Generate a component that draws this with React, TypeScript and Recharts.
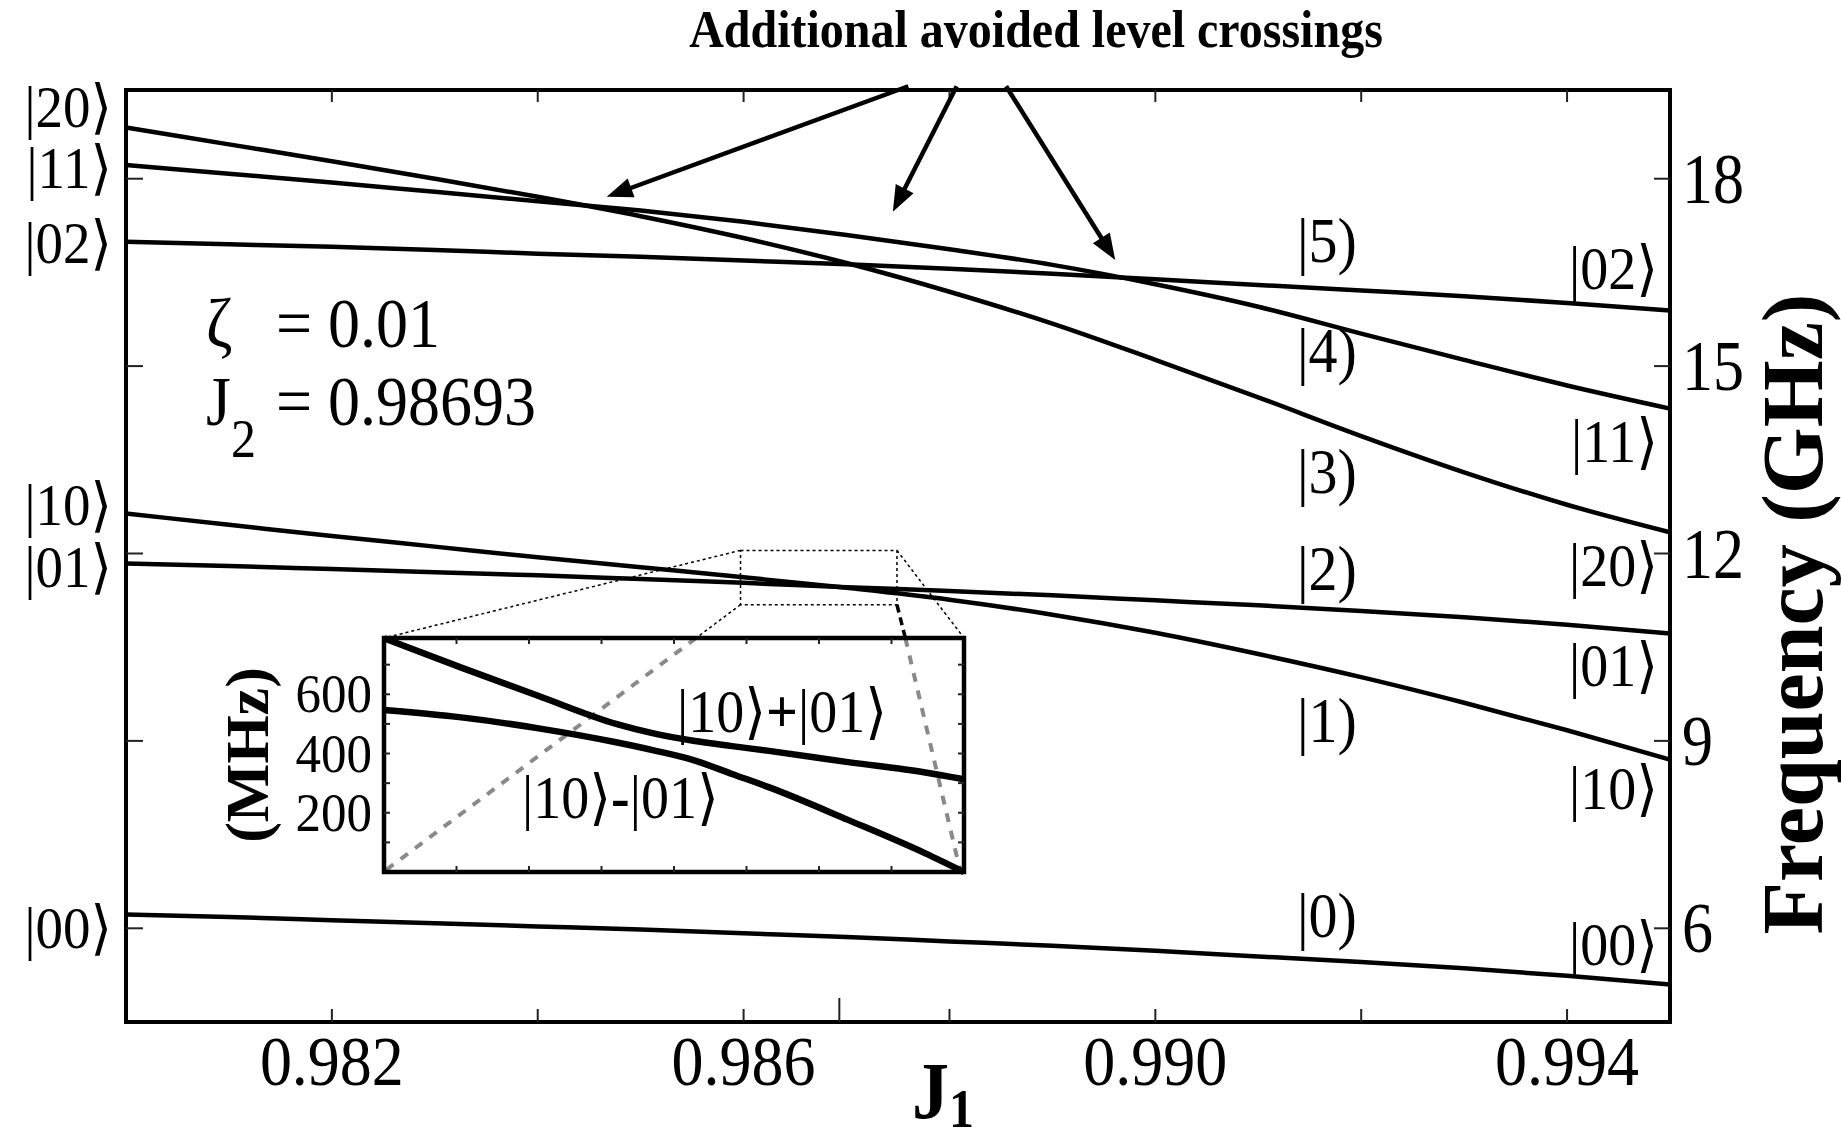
import React from 'react';
import { LineChart, Line, XAxis, YAxis, ReferenceArea } from 'recharts';

const W = 1841;
const H = 1141;
const SERIF = '"Liberation Serif", "DejaVu Serif", serif';
const SY = 1.08; // glyphs in this figure run slightly taller than wide
const KET = '\u27E9';

// J1 sweep and the uncoupled level frequencies (GHz)
const j1Values = [0.980, 0.981, 0.982, 0.983, 0.984, 0.985, 0.986, 0.987, 0.988, 0.989, 0.990, 0.991, 0.992, 0.993, 0.994, 0.995];
const level00 = [6.22, 6.18, 6.13, 6.08, 6.03, 5.98, 5.92, 5.86, 5.79, 5.72, 5.64, 5.55, 5.46, 5.36, 5.24, 5.10];
const level01 = [11.84, 11.80, 11.75, 11.70, 11.65, 11.59, 11.53, 11.46, 11.40, 11.33, 11.25, 11.17, 11.08, 10.98, 10.86, 10.72];
const level10 = [12.64, 12.46, 12.28, 12.11, 11.94, 11.78, 11.62, 11.45, 11.26, 11.02, 10.73, 10.39, 10.02, 9.61, 9.17, 8.70];
const level02 = [16.99, 16.95, 16.91, 16.86, 16.80, 16.75, 16.69, 16.63, 16.56, 16.48, 16.39, 16.30, 16.21, 16.12, 16.01, 15.89];
const level11 = [18.22, 18.08, 17.94, 17.79, 17.64, 17.49, 17.31, 17.10, 16.87, 16.62, 16.31, 15.95, 15.52, 15.10, 14.69, 14.32];
const level20 = [18.82, 18.55, 18.28, 18.00, 17.71, 17.40, 17.05, 16.65, 16.19, 15.68, 15.10, 14.50, 13.88, 13.30, 12.78, 12.34];

const J2 = 0.98693;
const ZETA = 0.01;
const X_DOMAIN = [0.980, 0.995];
const Y_DOMAIN = [4.5, 19.42];
const j1Ticks = [0.982, 0.984, 0.986, J2, 0.988, 0.990, 0.992, 0.994];
const j1Labels = [0.982, 0.986, 0.990, 0.994];
const freqTicks = [6, 9, 12, 15, 18];

// zoomed window around J1 = J2 (main-plot units)
const zoomJ1 = [0.98597, 0.98749];
const zoomFreq = [11.18, 12.05];

// inset: symmetric / antisymmetric splitting (MHz)
const insetJ1 = [0.98600, 0.98620, 0.98640, 0.98660, 0.98670, 0.98680, 0.98690, 0.98700, 0.98720, 0.98740, 0.98750];
const insetPlus = [789, 690, 594, 500, 467, 443, 425, 408, 371, 336, 313];
const insetMinus = [547, 522, 485, 438, 410, 378, 331, 284, 176, 63, 0];
const INSET_X_DOMAIN = [0.9860, 0.9875];
const INSET_Y_DOMAIN = [0, 790];
const insetTicksX = [0.9861875, 0.986375, 0.9865625, 0.98675, 0.9869375, 0.987125, 0.9873125];
const insetTicksY = [100, 200, 300, 400, 500, 600, 700];
const insetLabels = [200, 400, 600];

// arrows from the heading down to the extra anticrossings (J1, GHz)
const arrowTails = [[0.98760, 19.48], [0.98807, 19.48], [0.98855, 19.48]];
const arrowTips = [[0.98467, 17.71], [0.98745, 17.47], [0.98961, 16.70]];

const PLOT = { left: 126, top: 90, right: 1670, bottom: 1022 };
const INSET = { left: 384, top: 638, right: 964, bottom: 872 };
const INSET_DIV = { left: 150, top: 600, width: 840, height: 300 };
const IL = {
  left: INSET.left - INSET_DIV.left,
  top: INSET.top - INSET_DIV.top,
  right: INSET.right - INSET_DIV.left,
  bottom: INSET.bottom - INSET_DIV.top,
};

const mx = (j: number) => PLOT.left + ((j - X_DOMAIN[0]) / (X_DOMAIN[1] - X_DOMAIN[0])) * (PLOT.right - PLOT.left);
const my = (f: number) => PLOT.top + ((Y_DOMAIN[1] - f) / (Y_DOMAIN[1] - Y_DOMAIN[0])) * (PLOT.bottom - PLOT.top);

const mainRows = j1Values.map((j1, i) => ({
  j1,
  s00: level00[i],
  s01: level01[i],
  s10: level10[i],
  s02: level02[i],
  s11: level11[i],
  s20: level20[i],
}));
const insetRows = insetJ1.map((j1, i) => ({ j1, plus: insetPlus[i], minus: insetMinus[i] }));

const leftKets: [string, number][] = [
  ['|20' + KET, 127], ['|11' + KET, 188], ['|02' + KET, 263],
  ['|10' + KET, 525], ['|01' + KET, 587], ['|00' + KET, 948],
];
const rightKets: [string, number][] = [
  ['|02' + KET, 289], ['|11' + KET, 462], ['|20' + KET, 586],
  ['|01' + KET, 686], ['|10' + KET, 809], ['|00' + KET, 965],
];
const dressed: [string, number][] = [
  ['|5)', 262], ['|4)', 372], ['|3)', 493], ['|2)', 590], ['|1)', 742], ['|0)', 937],
];

function Txt({ x, y, size, anchor = 'start', weight = 'normal', sx = 1, sy = SY, children }: any) {
  return (
    <text
      transform={`translate(${x} ${y}) scale(${sx} ${sy})`}
      fontSize={size}
      fontFamily={SERIF}
      fontWeight={weight}
      textAnchor={anchor}
      fill="#000"
    >
      {children}
    </text>
  );
}

function J1Tick({ x, payload }: any) {
  const v = payload.value;
  const isJ2 = v === J2;
  return (
    <g>
      <line x1={x} x2={x} y1={PLOT.bottom} y2={PLOT.bottom - (isJ2 ? 24 : 13)} stroke="#222" strokeWidth={2} />
      {!isJ2 && <line x1={x} x2={x} y1={PLOT.top} y2={PLOT.top + 12} stroke="#222" strokeWidth={2} />}
      {j1Labels.includes(v) && (
        <Txt x={x} y={1085} size={64} anchor="middle">{v.toFixed(3)}</Txt>
      )}
    </g>
  );
}

function FreqTick({ y, payload }: any) {
  return (
    <g>
      <line x1={PLOT.right} x2={PLOT.right - 16} y1={y} y2={y} stroke="#222" strokeWidth={2} />
      <line x1={PLOT.left} x2={PLOT.left + 17} y1={y} y2={y} stroke="#222" strokeWidth={2} />
      <Txt x={1682} y={y + 24} size={62} sy={1.16}>{payload.value}</Txt>
    </g>
  );
}

function InsetXTick({ x }: any) {
  return (
    <g>
      <line x1={x} x2={x} y1={IL.bottom} y2={IL.bottom - 6} stroke="#222" strokeWidth={2} />
      <line x1={x} x2={x} y1={IL.top} y2={IL.top + 6} stroke="#222" strokeWidth={2} />
    </g>
  );
}

function InsetYTick({ y, payload }: any) {
  const v = payload.value;
  return (
    <g>
      <line x1={IL.left} x2={IL.left + 6} y1={y} y2={y} stroke="#222" strokeWidth={2} />
      <line x1={IL.right} x2={IL.right - 6} y1={y} y2={y} stroke="#222" strokeWidth={2} />
      {insetLabels.includes(v) && (
        <Txt x={IL.left - 12} y={y + 18} size={51} anchor="end">{v}</Txt>
      )}
    </g>
  );
}

function Arrow({ from, to }: { from: number[]; to: number[] }) {
  const dx = to[0] - from[0];
  const dy = to[1] - from[1];
  const len = Math.hypot(dx, dy);
  const ux = dx / len;
  const uy = dy / len;
  const hl = 26;
  const hw = 10;
  const bx = to[0] - ux * hl;
  const by = to[1] - uy * hl;
  const pts = `${to[0]},${to[1]} ${bx - uy * hw},${by + ux * hw} ${bx + uy * hw},${by - ux * hw}`;
  return (
    <g>
      <line x1={from[0]} y1={from[1]} x2={bx + ux * 4} y2={by + uy * 4} stroke="#000" strokeWidth={4.5} />
      <polygon points={pts} fill="#000" />
    </g>
  );
}

// point where a connector from the zoom box meets the inset's top edge
function splitAtInsetTop(x0: number, y0: number, x1: number, y1: number) {
  const t = (INSET.top - y0) / (y1 - y0);
  return x0 + t * (x1 - x0);
}

export default function App() {
  const zl = mx(zoomJ1[0]);
  const zr = mx(zoomJ1[1]);
  const zt = my(zoomFreq[1]);
  const zb = my(zoomFreq[0]);
  const cxL = splitAtInsetTop(zl, zb, INSET.left, INSET.bottom);
  const cxR = splitAtInsetTop(zr, zb, INSET.right, INSET.bottom);

  const mainLine = (key: string) => (
    <Line
      key={key}
      dataKey={key}
      type="monotone"
      stroke="#000"
      strokeWidth={4.5}
      dot={false}
      activeDot={false}
      isAnimationActive={false}
    />
  );

  return (
    <div style={{ position: 'absolute', left: 0, top: 0, width: W, height: H, background: '#fff', overflow: 'hidden' }}>
      <div style={{ position: 'absolute', left: 0, top: 0 }}>
        <LineChart
          width={W}
          height={H}
          data={mainRows}
          margin={{ top: PLOT.top, left: PLOT.left, right: W - PLOT.right - 120, bottom: H - PLOT.bottom - 60 }}
        >
          <XAxis
            dataKey="j1"
            type="number"
            domain={X_DOMAIN}
            ticks={j1Ticks}
            interval={0}
            tick={<J1Tick />}
            tickLine={false}
            axisLine={false}
            tickSize={0}
            tickMargin={0}
            height={60}
          />
          <YAxis
            orientation="right"
            type="number"
            domain={Y_DOMAIN}
            ticks={freqTicks}
            interval={0}
            tick={<FreqTick />}
            tickLine={false}
            axisLine={false}
            tickSize={0}
            tickMargin={0}
            width={120}
          />
          {['s00', 's01', 's10', 's02', 's11', 's20'].map(mainLine)}
          <ReferenceArea
            x1={zoomJ1[0]}
            x2={zoomJ1[1]}
            y1={zoomFreq[0]}
            y2={zoomFreq[1]}
            fill="none"
            fillOpacity={0}
            stroke="#000"
            strokeWidth={1.5}
            strokeDasharray="3 3"
          />
          <ReferenceArea
            x1={X_DOMAIN[0]}
            x2={X_DOMAIN[1]}
            y1={Y_DOMAIN[0]}
            y2={Y_DOMAIN[1]}
            fill="none"
            fillOpacity={0}
            stroke="#000"
            strokeWidth={4}
          />
        </LineChart>
      </div>

      {/* projection lines inside the inset, behind its curves */}
      <svg width={W} height={H} style={{ position: 'absolute', left: 0, top: 0, pointerEvents: 'none' }}>
        <line x1={cxL} y1={INSET.top} x2={INSET.left + 2} y2={INSET.bottom - 2} stroke="#8a8a8a" strokeWidth={4} strokeDasharray="9 9" />
        <line x1={cxR} y1={INSET.top} x2={INSET.right - 4} y2={INSET.bottom - 2} stroke="#8a8a8a" strokeWidth={4} strokeDasharray="9 9" />
      </svg>

      <div style={{ position: 'absolute', left: INSET_DIV.left, top: INSET_DIV.top }}>
        <LineChart
          width={INSET_DIV.width}
          height={INSET_DIV.height}
          data={insetRows}
          margin={{ top: IL.top, left: IL.left - 80, right: INSET_DIV.width - IL.right, bottom: INSET_DIV.height - IL.bottom - 10 }}
        >
          <XAxis
            dataKey="j1"
            type="number"
            domain={INSET_X_DOMAIN}
            ticks={insetTicksX}
            interval={0}
            tick={<InsetXTick />}
            tickLine={false}
            axisLine={false}
            tickSize={0}
            tickMargin={0}
            height={10}
          />
          <YAxis
            type="number"
            domain={INSET_Y_DOMAIN}
            ticks={insetTicksY}
            interval={0}
            tick={<InsetYTick />}
            tickLine={false}
            axisLine={false}
            tickSize={0}
            tickMargin={0}
            width={80}
          />
          <Line dataKey="plus" type="monotone" stroke="#000" strokeWidth={6.5} dot={false} activeDot={false} isAnimationActive={false} />
          <Line dataKey="minus" type="monotone" stroke="#000" strokeWidth={6.5} dot={false} activeDot={false} isAnimationActive={false} />
          <ReferenceArea
            x1={INSET_X_DOMAIN[0]}
            x2={INSET_X_DOMAIN[1]}
            y1={INSET_Y_DOMAIN[0]}
            y2={INSET_Y_DOMAIN[1]}
            fill="none"
            fillOpacity={0}
            stroke="#000"
            strokeWidth={4.5}
          />
        </LineChart>
      </div>

      <svg width={W} height={H} style={{ position: 'absolute', left: 0, top: 0, pointerEvents: 'none' }}>
        {/* zoom-box connectors outside the inset */}
        <line x1={zl} y1={zt} x2={INSET.left} y2={INSET.top} stroke="#000" strokeWidth={1.5} strokeDasharray="3 3" />
        <line x1={zr} y1={zt} x2={INSET.right} y2={INSET.top} stroke="#000" strokeWidth={1.5} strokeDasharray="3 3" />
        <line x1={zl} y1={zb} x2={cxL} y2={INSET.top} stroke="#000" strokeWidth={1.5} strokeDasharray="3 3" />
        <line x1={zr} y1={zb} x2={cxR} y2={INSET.top} stroke="#000" strokeWidth={3.5} strokeDasharray="8 5" />

        <Txt x={1036} y={47} size={48} anchor="middle" weight="bold">Additional avoided level crossings</Txt>
        {arrowTips.map((tip, i) => (
          <Arrow key={i} from={[mx(arrowTails[i][0]), my(arrowTails[i][1])]} to={[mx(tip[0]), my(tip[1])]} />
        ))}

        {leftKets.map(([t, y]) => (
          <Txt key={'l' + t} x={112} y={y} size={55} anchor="end">{t}</Txt>
        ))}
        {rightKets.map(([t, y]) => (
          <Txt key={'r' + t} x={1658} y={y} size={56} anchor="end">{t}</Txt>
        ))}
        {dressed.map(([t, y]) => (
          <Txt key={t} x={1297} y={y} size={58}>{t}</Txt>
        ))}

        <Txt x={206} y={347} size={64}>
          <tspan>ζ</tspan>
          <tspan x={70}>= {ZETA.toFixed(2)}</tspan>
        </Txt>
        <Txt x={206} y={425} size={64}>
          <tspan>J</tspan>
          <tspan fontSize={50} dy={30}>2</tspan>
          <tspan x={70} dy={-30}>= {J2.toFixed(5)}</tspan>
        </Txt>

        <Txt x={912} y={1118} size={74} weight="bold">
          <tspan>J</tspan>
          <tspan fontSize={50} dy={8}>1</tspan>
        </Txt>
        <text
          transform="translate(1822 614) rotate(-90)"
          fontSize={86}
          fontFamily={SERIF}
          fontWeight="bold"
          textAnchor="middle"
        >
          Frequency (GHz)
        </text>

        <text
          transform="translate(268 755) rotate(-90)"
          fontSize={62}
          fontFamily={SERIF}
          fontWeight="bold"
          textAnchor="middle"
        >
          (MHz)
        </text>
        <Txt x={677} y={732} size={56}>
          <tspan>|10{KET}</tspan>
          <tspan fontWeight="bold">+</tspan>
          <tspan>|01{KET}</tspan>
        </Txt>
        <Txt x={522} y={818} size={56}>
          <tspan>|10{KET}</tspan>
          <tspan fontWeight="bold">-</tspan>
          <tspan>|01{KET}</tspan>
        </Txt>
      </svg>
    </div>
  );
}
